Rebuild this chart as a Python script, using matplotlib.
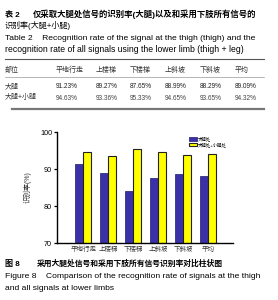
import numpy as np
import matplotlib
matplotlib.use('Agg')
import matplotlib.pyplot as plt

plt.rcParams['font.family'] = ['Liberation Sans', 'Noto Sans CJK SC', 'DejaVu Sans']

# data
categories = ['平地行走', '上楼梯', '下楼梯', '上斜坡', '下斜坡', '平均']
table_thigh = ['91.23%', '89.27%', '87.65%', '88.99%', '88.29%', '89.09%']
table_both = ['94.63%', '93.36%', '95.33%', '94.65%', '93.65%', '94.32%']
bar_thigh = [91.3, 89.0, 84.1, 87.5, 88.7, 88.2]
bar_both = [94.7, 93.5, 95.4, 94.5, 93.7, 94.1]
series_names = ['大腿处', '大腿处+小腿处']
yticks = [70, 80, 90, 100]

W, H = 278, 300
fig = plt.figure(figsize=(W / 100, H / 100), dpi=100)


def px(x, y):
    return x / W, 1 - y / H


def txt(x, y, s, size=6.3, **kw):
    fig.text(*px(x, y), s, fontsize=size, va='center', ha='left', **kw)


# table caption
txt(5, 14, '表 2', 5.8, weight='bold')
txt(33, 14, '仅采取大腿处信号的识别率(大腿)以及和采用下肢所有信号的', 6.0, weight='bold')
txt(5, 26, '识别率(大腿+小腿)', 5.8)
txt(5, 38, 'Table 2    Recognition rate of the signal at the thigh (thigh) and the', 6.1)
txt(5, 50, 'recognition rate of all signals using the lower limb (thigh + leg)', 6.2)

fig.add_artist(plt.Line2D([5 / W, 264 / W], [1 - 59 / H] * 2, color='#555555', lw=0.8))

# table body
col_x = [56, 96, 130, 165, 200, 235]
txt(5, 70, '部位', 5, color='#333333')
for cx, c in zip(col_x, categories):
    txt(cx, 70, c, 5, color='#333333')
fig.add_artist(plt.Line2D([5 / W, 264 / W], [1 - 77 / H] * 2, color='#999999', lw=0.5))
txt(5, 87, '大腿', 5, color='#333333')
txt(5, 98, '大腿+小腿', 5, color='#333333')
for cx, a, b in zip(col_x, table_thigh, table_both):
    txt(cx, 87, a, 4.7, color='#222222')
    txt(cx, 98, b, 4.7, color='#444444')
fig.add_artist(plt.Line2D([12 / W, 264 / W], [1 - 109 / H] * 2, color='#777777', lw=1.6))

# bar chart
ax = fig.add_axes([57 / W, 1 - 243 / H, 176 / W, 111 / H])
x = np.arange(len(categories))
w = 0.32
ax.bar(x - w / 2, bar_thigh, w, color='#3a30a8', edgecolor='#20186a', lw=0.5,
       label=series_names[0], zorder=2)
ax.bar(x + w / 2, bar_both, w, color='#ffff00', edgecolor='#222222', lw=0.8,
       label=series_names[1], zorder=2)
ax.set_ylim(70, 100)
ax.set_xlim(-1.05, 6.0)
ax.set_yticks(yticks)
ax.set_xticks(x)
ax.set_xticklabels(categories, fontsize=4.7, color='#333333')
ax.tick_params(axis='y', labelsize=5.2, length=2.5, width=0.9, pad=1)
ax.tick_params(axis='x', length=0, pad=2)
for s in ['top', 'right']:
    ax.spines[s].set_visible(False)
for s in ['left', 'bottom']:
    ax.spines[s].set_linewidth(1.0)
ax.set_ylabel('识别率(%)', fontsize=5, color='#333333', labelpad=6)
ax.legend(loc='upper left', bbox_to_anchor=(0.74, 0.98), fontsize=3.2, frameon=False,
          handlelength=1.6, handleheight=0.9, handletextpad=0.3, labelspacing=0.2,
          borderpad=0)

# figure caption
txt(5, 264, '图 8', 5.8, weight='bold')
txt(37, 264, '采用大腿处信号和采用下肢所有信号识别率对比柱状图', 5.6, weight='bold')
txt(5, 276, 'Figure 8    Comparison of the recognition rate of signals at the thigh', 6.1)
txt(5, 288, 'and all signals at lower limbs', 6.1)

fig.savefig('out.png', dpi=100)
